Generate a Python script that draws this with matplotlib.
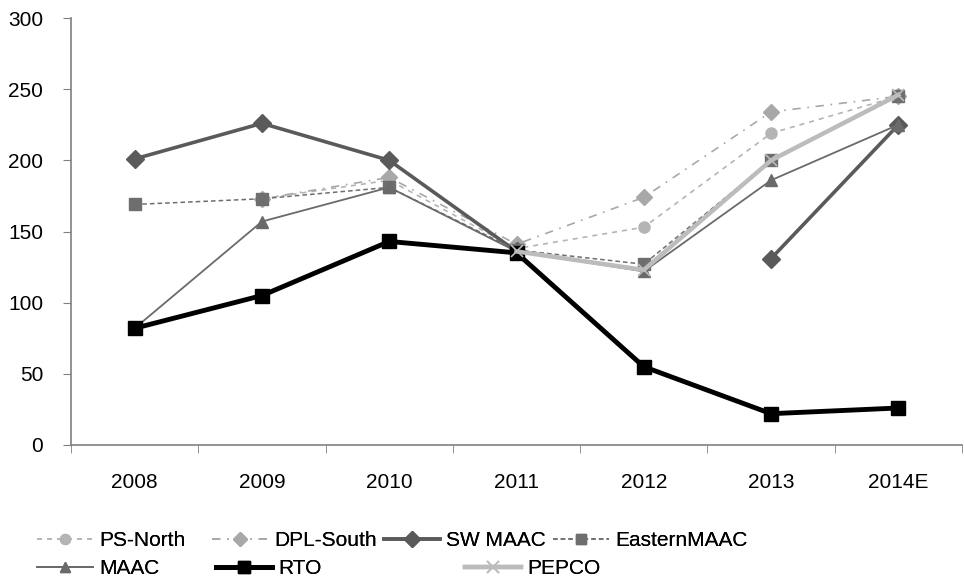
import numpy as np
import matplotlib.pyplot as plt

plt.rcParams['font.family'] = ['Liberation Sans', 'DejaVu Sans']

# Capacity prices by zone, delivery years 2008 .. 2014E (nan = no value)
years = ['2008', '2009', '2010', '2011', '2012', '2013', '2014E']
ps_north = [np.nan, 173, 186, 138, 153, 219, 245]
dpl_south = [np.nan, 173, 188, 141, 174, 234, 245]
sw_maac = [201, 226, 200, 136, np.nan, 131, 225]
eastern_maac = [169, 173, 181, 137, 127, 200, 245]
maac = [82, 157, 181, 136, 122, 186, 225]
rto = [82, 105, 143, 135, 55, 22, 26]
pepco = [np.nan, np.nan, np.nan, 136, 123, 200, 246]

series = [
    ('PS-North', ps_north, dict(color='#b4b4b4', lw=1.2, ls=(0, (3, 3)), marker='o', ms=8)),
    ('DPL-South', dpl_south, dict(color='#a8a8a8', lw=1.2, ls=(0, (5, 4, 1, 4)), marker='D', ms=8)),
    ('SW MAAC', sw_maac, dict(color='#5a5a5a', lw=2.6, ls='-', marker='D', ms=9)),
    ('EasternMAAC', eastern_maac, dict(color='#6e6e6e', lw=1.1, ls=(0, (3, 2)), marker='s', ms=8)),
    ('MAAC', maac, dict(color='#6a6a6a', lw=1.3, ls='-', marker='^', ms=8)),
    ('RTO', rto, dict(color='#000000', lw=3.5, ls='-', marker='s', ms=10)),
    ('PEPCO', pepco, dict(color='#bcbcbc', lw=3.2, ls='-', marker='x', ms=9, mew=1.2)),
]

fig = plt.figure(figsize=(9.64, 5.83), dpi=100)
ax = fig.add_axes([71 / 964, 1 - 445 / 583, 891 / 964, 427 / 583])

x = np.arange(len(years))
handles = []
for label, vals, style in series:
    line, = ax.plot(x, vals, label=label, **style)
    handles.append(line)

ax.set_xlim(-0.5, len(years) - 0.5)
ax.set_ylim(0, 300)
ax.set_yticks(range(0, 301, 50))

# category labels centred, tick marks on the category boundaries
ax.set_xticks(x)
ax.set_xticklabels(years)
ax.set_xticks(np.arange(-0.5, len(years), 1), minor=True)
ax.tick_params(axis='x', which='major', length=0, pad=20, labelsize=15)
ax.tick_params(axis='x', which='minor', length=6, color='#808080', direction='out')
ax.tick_params(axis='y', length=6, color='#808080', direction='out', pad=14, labelsize=15)

for side in ('top', 'right'):
    ax.spines[side].set_visible(False)
for side in ('left', 'bottom'):
    ax.spines[side].set_color('#808080')
    ax.spines[side].set_linewidth(1.2)

# legend laid out like a spreadsheet legend: two rows, uneven columns
slots = [(37, 541), (212, 541), (384, 541), (553, 541),
         (37, 569), (216, 569), (465, 569)]
for h, (px, py) in zip(handles, slots):
    leg = fig.legend([h], [h.get_label()], loc='center left',
                     bbox_to_anchor=(px / 964, 1 - py / 583),
                     frameon=False, fontsize=15, handlelength=2.7,
                     handletextpad=0.3, borderpad=0, borderaxespad=0,
                     markerscale=0.9)
    fig.add_artist(leg)

fig.savefig('out.png', dpi=100)
